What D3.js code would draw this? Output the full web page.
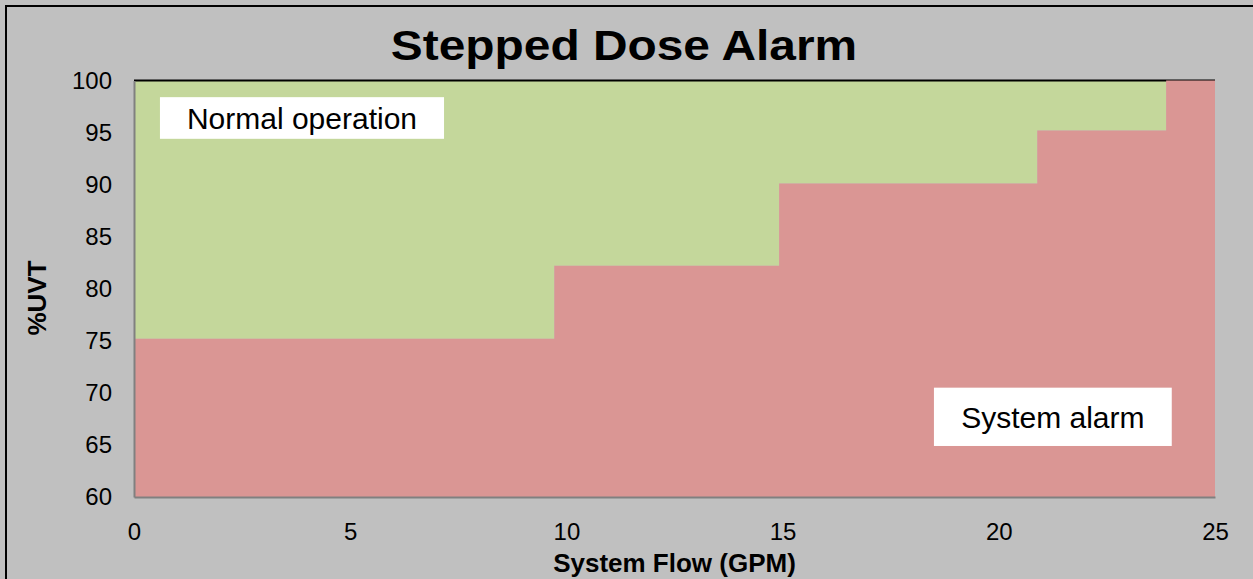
<!DOCTYPE html>
<html>
<head>
<meta charset="utf-8">
<script src="https://cdn.jsdelivr.net/npm/d3@7"></script>
<style>
  html, body { margin: 0; padding: 0; background: #c0c0c0; overflow: hidden; }
  text { font-family: "Liberation Sans", Arial, sans-serif; fill: #000; }
</style>
</head>
<body>
<div id="chart"></div>
<script>
// step boundaries (flow, GPM) and the alarm level for each step (%UVT)
var stepFlow = [0, 9.72, 14.92, 20.89, 23.87, 25];
var stepUVT  = [75.2, 82.2, 90.1, 95.2, 100, 100];

var xTicks = [0, 5, 10, 15, 20, 25];
var yTicks = [60, 65, 70, 75, 80, 85, 90, 95, 100];

var zoneLabels = ["Normal operation", "System alarm"];

var W = 1253, H = 579;
var margin = {left: 134, top: 80.5, right: 38, bottom: 82},
    width = W - margin.left - margin.right,
    height = H - margin.top - margin.bottom;

var svg = d3.select("#chart").append("svg")
    .attr("width", W)
    .attr("height", H);

// chart frame
svg.append("rect")
    .attr("x", 6).attr("y", 6)
    .attr("width", W + 20).attr("height", H + 20)
    .attr("fill", "#c0c0c0")
    .attr("stroke", "#000")
    .attr("stroke-width", 2);

var x = d3.scaleLinear().domain([0, 25]).range([0, width]),
    y = d3.scaleLinear().domain([60, 100]).range([height, 0]);

var g = svg.append("g")
    .attr("transform", "translate(" + margin.left + "," + margin.top + ")");

var steps = stepFlow.map(function(d, i) { return {flow: d, uvt: stepUVT[i]}; });

// normal zone: between step line and top
g.append("path")
    .datum(steps)
    .attr("fill", "#c4d79b")
    .attr("d", d3.area()
        .curve(d3.curveStepAfter)
        .x(function(d) { return x(d.flow); })
        .y0(function(d) { return y(d.uvt); })
        .y1(y(100)));

// top border of plot area
g.append("line")
    .attr("x1", 0).attr("x2", width)
    .attr("y1", 0).attr("y2", 0)
    .attr("stroke", "#000").attr("stroke-width", 2);

// alarm zone: below step line
g.append("path")
    .datum(steps)
    .attr("fill", "#da9694")
    .attr("d", d3.area()
        .curve(d3.curveStepAfter)
        .x(function(d) { return x(d.flow); })
        .y0(y(60))
        .y1(function(d) { return y(d.uvt); }));

var xAxis = g.append("g")
    .attr("transform", "translate(0," + height + ")")
    .call(d3.axisBottom(x).tickValues(xTicks).tickSize(0).tickPadding(26));

var yAxis = g.append("g")
    .call(d3.axisLeft(y).tickValues(yTicks).tickSize(0).tickPadding(22));

[xAxis, yAxis].forEach(function(a) {
    a.select(".domain").attr("stroke", "#808080").attr("stroke-width", 2);
    a.selectAll("text")
        .attr("font-family", "Liberation Sans, Arial, sans-serif")
        .attr("font-size", 24)
        .attr("fill", "#000");
});

// zone labels in white boxes
var boxes = [
    {text: zoneLabels[0], x0: 0.6, x1: 7.17, y0: 98.4, y1: 94.4},
    {text: zoneLabels[1], x0: 18.5, x1: 24.0, y0: 70.5, y1: 64.9}
];

var lab = g.selectAll(".zone")
    .data(boxes)
  .enter().append("g")
    .attr("class", "zone");

lab.append("rect")
    .attr("x", function(d) { return x(d.x0); })
    .attr("y", function(d) { return y(d.y0); })
    .attr("width", function(d) { return x(d.x1) - x(d.x0); })
    .attr("height", function(d) { return y(d.y1) - y(d.y0); })
    .attr("fill", "#fff");

lab.append("text")
    .attr("x", function(d) { return (x(d.x0) + x(d.x1)) / 2; })
    .attr("y", function(d) { return (y(d.y0) + y(d.y1)) / 2; })
    .attr("dy", "0.36em")
    .attr("text-anchor", "middle")
    .attr("font-size", 30)
    .text(function(d) { return d.text; });

// titles
svg.append("text")
    .attr("transform", "translate(624,60) scale(1.14,1)")
    .attr("text-anchor", "middle")
    .attr("font-size", 42)
    .attr("font-weight", "bold")
    .text("Stepped Dose Alarm");

svg.append("text")
    .attr("x", margin.left + width / 2).attr("y", 572)
    .attr("text-anchor", "middle")
    .attr("font-size", 26)
    .attr("font-weight", "bold")
    .text("System Flow (GPM)");

svg.append("text")
    .attr("transform", "translate(46,298) rotate(-90)")
    .attr("text-anchor", "middle")
    .attr("font-size", 26)
    .attr("font-weight", "bold")
    .text("%UVT");
</script>
</body>
</html>
